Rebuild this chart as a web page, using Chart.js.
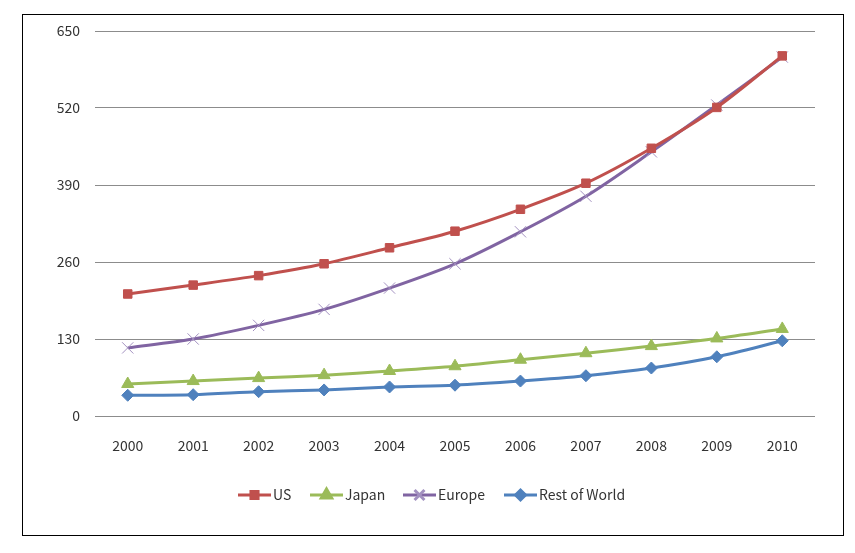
<!DOCTYPE html>
<html><head><meta charset="utf-8">
<script src="https://cdn.jsdelivr.net/npm/chart.js@4.4.1/dist/chart.umd.min.js"></script>
<style>
html,body{margin:0;padding:0;background:#fff;}
#box{position:absolute;left:22px;top:14px;width:820px;height:520px;border:1px solid #000;}
#c{display:block;}
</style></head>
<body>
<div id="box"><canvas id="c" width="820" height="520"></canvas></div>
<script>
const years = ['2000','2001','2002','2003','2004','2005','2006','2007','2008','2009','2010'];
const usValues = [206,221,237,257,284,312,349,393,452,521,608];
const japanValues = [54,59,64,69,76,84,95,106,118,131,147];
const europeValues = [115,130,153,180,216,257,311,371,446,525,606];
const restValues = [35,36,41,44,49,52,59,68,81,100,127];
const yTicks = [0,130,260,390,520,650];

const FONT = "'Noto Sans CJK KR','Noto Sans',sans-serif";
const series = [
  {label:'US', data:usValues, color:'#C0504D', style:'rect', r:6, pc:'#C0504D'},
  {label:'Japan', data:japanValues, color:'#9BBB59', style:'triangle', r:7, pc:'#9BBB59'},
  {label:'Europe', data:europeValues, color:'#8064A2', style:'crossRot', r:8, pc:'#A391C0'},
  {label:'Rest of World', data:restValues, color:'#4F81BD', style:'rectRot', r:6, pc:'#4F81BD'}
];

const legendPlugin = {
  id:'customLegend',
  afterDraw(chart){
    const ctx = chart.ctx;
    const y = 480;
    const items = [
      {s:series[0], x:215},
      {s:series[1], x:287},
      {s:series[2], x:380},
      {s:series[3], x:481}
    ];
    ctx.save();
    items.forEach(it=>{
      ctx.strokeStyle = it.s.color;
      ctx.lineWidth = 3;
      ctx.beginPath();
      ctx.moveTo(it.x, y); ctx.lineTo(it.x+33, y); ctx.stroke();
      ctx.fillStyle = it.s.pc; ctx.strokeStyle = it.s.pc;
      Chart.helpers.drawPoint(ctx, {pointStyle:it.s.style, radius:it.s.r-1, borderWidth:1}, it.x+16.5, y);
      ctx.fillStyle = '#333';
      ctx.font = "14px " + FONT;
      ctx.textBaseline = 'middle';
      ctx.textAlign = 'left';
      ctx.fillText(it.s.label, it.x+35, y);
    });
    ctx.restore();
  }
};

new Chart(document.getElementById('c'), {
  type:'line',
  data:{
    labels:years,
    datasets:series.map(s=>({
      label:s.label, data:s.data,
      borderColor:s.color, borderWidth:3,
      backgroundColor:s.pc, pointBorderColor:s.pc,
      pointStyle:s.style, pointRadius:s.r, pointBorderWidth:1,
      tension:0.3, fill:false
    }))
  },
  options:{
    responsive:false, animation:false,
    layout:{padding:{left:0,top:16,right:28,bottom:0}},
    plugins:{legend:{display:false}, tooltip:{enabled:false}},
    scales:{
      x:{
        offset:true,
        grid:{display:false, drawTicks:false},
        border:{display:false},
        ticks:{padding:21, color:'#333', font:{family:FONT, size:14}},
        afterFit(a){a.height = 119; a.paddingLeft = 0; a.paddingRight = 0;}
      },
      y:{
        min:0, max:650,
        afterBuildTicks(a){a.ticks = yTicks.map(v=>({value:v}));},
        grid:{color:'#8c8c8c', drawTicks:false, lineWidth:1},
        border:{display:false},
        ticks:{padding:15, color:'#333', font:{family:FONT, size:14}},
        afterFit(a){a.width = 72; a.paddingTop = 0; a.paddingBottom = 0;}
      }
    }
  },
  plugins:[legendPlugin]
});
</script>
</body></html>
